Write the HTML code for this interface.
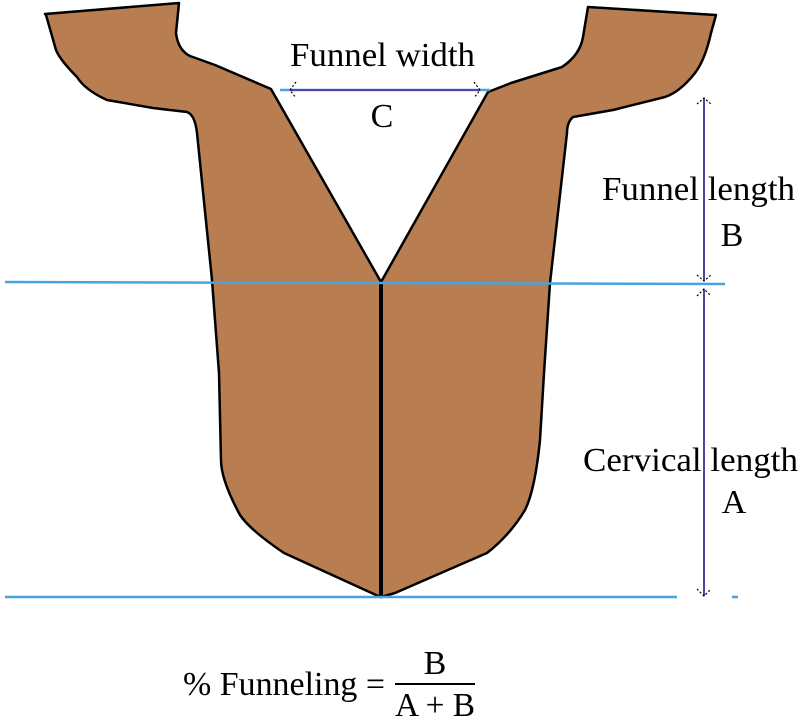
<!DOCTYPE html>
<html><head><style>html,body{margin:0;padding:0;background:#fff;}svg{display:block}</style></head>
<body>
<svg width="800" height="716" viewBox="0 0 800 716" xmlns="http://www.w3.org/2000/svg" font-family="Liberation Serif, serif">
<path d="M45,14 L179,3 L176,33 Q178,50 190,56 L215,65 L271,89 L381,282 L381,597 L376,595 L284,553 Q250,530 240,515 Q221,480 221,460 L219,373 L212,280 L197,133 Q195,115 187,112 L153,108 L107,100 Q85,90 77,77 Q60,60 56,50 L46,15 Z" fill="#b87d50" stroke="#000" stroke-width="2.5" stroke-linejoin="round"/>
<path d="M381,282 L488,92 L511,83 L562,67 Q580,55 583,37 L588,7 L716,15 L711,33 Q705,60 695,73 Q680,92 665,97 L613,110 L573,117 Q567,122 567,133 L550,283 L544,373 L540,440 Q535,490 525,510 Q510,535 487,553 L395,593 L381,597 Z" fill="#b87d50" stroke="#000" stroke-width="2.5" stroke-linejoin="round"/>
<line x1="381" y1="283" x2="381" y2="597" stroke="#000" stroke-width="4"/>
<line x1="5" y1="282" x2="725" y2="284" stroke="#4aa3df" stroke-width="2.5"/>
<line x1="5" y1="597" x2="677" y2="597" stroke="#4aa3df" stroke-width="2.5"/>
<line x1="732" y1="597" x2="738" y2="597" stroke="#4aa3df" stroke-width="2.5"/>
<line x1="280" y1="90" x2="490" y2="90" stroke="#4aa3df" stroke-width="2.5"/>
<g stroke="#5b3fa0" stroke-width="2" fill="none">
<line x1="290" y1="90" x2="480" y2="90"/>
<line x1="704" y1="98" x2="704" y2="281"/>
<line x1="704" y1="289" x2="704" y2="596"/>
</g>
<g stroke="#000" stroke-width="1.2" stroke-dasharray="2,2" fill="none">
<path d="M296,82 L290,90 L296,98"/>
<path d="M474,82 L480,90 L474,98"/>
<path d="M697,104 L704,98 L711,104"/>
<path d="M697,275 L704,281 L711,275"/>
<path d="M697,296 L704,289 L711,296"/>
<path d="M697,589 L704,596 L711,589"/>
</g>
<g fill="#000" font-size="34">
<text x="290" y="66" textLength="185" lengthAdjust="spacingAndGlyphs">Funnel width</text>
<text x="382" y="127" text-anchor="middle">C</text>
<text x="602" y="200" textLength="193" lengthAdjust="spacingAndGlyphs">Funnel length</text>
<text x="732" y="246" text-anchor="middle">B</text>
<text x="583" y="471" textLength="215" lengthAdjust="spacingAndGlyphs">Cervical length</text>
<text x="734" y="513" text-anchor="middle">A</text>
<text x="183" y="695" textLength="202" lengthAdjust="spacingAndGlyphs">% Funneling =</text>
<text x="435" y="674" text-anchor="middle">B</text>
<text x="395" y="716" textLength="80" lengthAdjust="spacingAndGlyphs">A + B</text>
</g>
<line x1="395" y1="684" x2="475" y2="684" stroke="#000" stroke-width="2"/>
</svg>
</body></html>
